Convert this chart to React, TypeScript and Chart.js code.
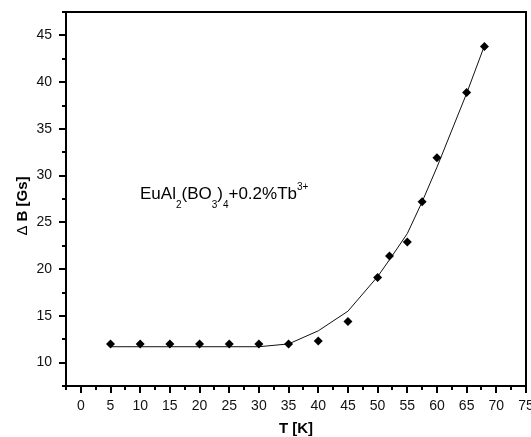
import React, { useEffect, useRef } from "react";
import { Chart, registerables } from "chart.js";

Chart.register(...registerables);

const temperatures = [5, 10, 15, 20, 25, 30, 35, 40, 45, 50, 52, 55, 57.5, 60, 65, 68];
const deltaB = [12, 12, 12, 12, 12, 12, 12, 12.3, 14.4, 19.1, 21.4, 22.9, 27.2, 31.9, 38.9, 43.8];
const fitB = [11.7, 11.7, 11.7, 11.7, 11.7, 11.7, 12.0, 13.4, 15.5, 19.2, 21.0, 23.8, 27.2, 30.9, 38.8, 43.9];
const xMajorTicks = [0, 5, 10, 15, 20, 25, 30, 35, 40, 45, 50, 55, 60, 65, 70, 75];
const xMinorTicks = [-2.5, 2.5, 7.5, 12.5, 17.5, 22.5, 27.5, 32.5, 37.5, 42.5, 47.5, 52.5, 57.5, 62.5, 67.5, 72.5];
const yMajorTicks = [10, 15, 20, 25, 30, 35, 40, 45];
const yMinorTicks = [7.5, 12.5, 17.5, 22.5, 27.5, 32.5, 37.5, 42.5, 47.5];
const xTitle = "T [K]";
const yTitleSymbol = "Δ";
const yTitleRest = " B [Gs]";
const annotationParts: [string, string][] = [
  ["EuAl", "n"], ["2", "sub"], ["(BO", "n"], ["3", "sub"], [")", "n"], ["4", "sub"], ["+0.2%Tb", "n"], ["3+", "sup"],
];

const FONT = "'Liberation Sans', Arial, sans-serif";

const framePlugin = {
  id: "frameTicks",
  afterDraw(chart: any) {
    const { ctx, chartArea } = chart;
    const { left, right, top, bottom } = chartArea;
    const xs = chart.scales.x;
    const ys = chart.scales.y;
    ctx.save();
    ctx.strokeStyle = "#000";
    ctx.lineWidth = 2;
    ctx.strokeRect(left, top, right - left, bottom - top);
    ctx.beginPath();
    xMajorTicks.forEach((v) => {
      const p = Math.round(xs.getPixelForValue(v));
      ctx.moveTo(p, bottom);
      ctx.lineTo(p, bottom + 7);
    });
    xMinorTicks.forEach((v) => {
      const p = Math.round(xs.getPixelForValue(v));
      ctx.moveTo(p, bottom);
      ctx.lineTo(p, bottom + 4);
    });
    yMajorTicks.forEach((v) => {
      const p = Math.round(ys.getPixelForValue(v));
      ctx.moveTo(left, p);
      ctx.lineTo(left - 7, p);
    });
    yMinorTicks.forEach((v) => {
      const p = Math.round(ys.getPixelForValue(v));
      ctx.moveTo(left, p);
      ctx.lineTo(left - 4, p);
    });
    ctx.stroke();

    // axis titles
    ctx.fillStyle = "#000";
    ctx.font = `bold 15px ${FONT}`;
    ctx.textAlign = "center";
    ctx.textBaseline = "alphabetic";
    ctx.fillText(xTitle, (left + right) / 2, 433);

    ctx.save();
    ctx.translate(27, 206);
    ctx.rotate(-Math.PI / 2);
    ctx.textAlign = "left";
    ctx.font = `15px ${FONT}`;
    const w1 = ctx.measureText(yTitleSymbol).width;
    ctx.font = `bold 15px ${FONT}`;
    const w2 = ctx.measureText(yTitleRest).width;
    const start = -(w1 + w2) / 2;
    ctx.font = `15px ${FONT}`;
    ctx.fillText(yTitleSymbol, start, 0);
    ctx.font = `bold 15px ${FONT}`;
    ctx.fillText(yTitleRest, start + w1, 0);
    ctx.restore();

    // annotation
    let ax = 140;
    const base = 199;
    ctx.textAlign = "left";
    annotationParts.forEach(([t, kind]) => {
      if (kind === "n") {
        ctx.font = `17px ${FONT}`;
        ctx.fillText(t, ax, base);
      } else if (kind === "sub") {
        ctx.font = `10px ${FONT}`;
        ctx.fillText(t, ax, base + 9);
      } else {
        ctx.font = `10px ${FONT}`;
        ctx.fillText(t, ax, base - 9);
      }
      ax += ctx.measureText(t).width;
    });
    ctx.restore();
  },
};

export default function App() {
  const ref = useRef<HTMLCanvasElement | null>(null);
  useEffect(() => {
    if (!ref.current) return;
    const chart = new Chart(ref.current, {
      type: "scatter",
      data: {
        datasets: [
          {
            label: "fit",
            data: temperatures.map((t, i) => ({ x: t, y: fitB[i] })),
            showLine: true,
            borderColor: "#111",
            borderWidth: 1,
            pointRadius: 0,
            fill: false,
            tension: 0,
            order: 2,
          },
          {
            label: "data",
            data: temperatures.map((t, i) => ({ x: t, y: deltaB[i] })),
            pointStyle: "rectRot",
            pointRadius: 4.5,
            backgroundColor: "#000",
            borderColor: "#000",
            borderWidth: 0,
            showLine: false,
            order: 1,
          },
        ],
      },
      options: {
        animation: false,
        responsive: false,
        layout: { padding: { left: 0, right: 5, top: 12, bottom: 0 } },
        plugins: { legend: { display: false }, tooltip: { enabled: false } },
        scales: {
          x: {
            type: "linear",
            min: -2.5,
            max: 75,
            grid: { display: false },
            border: { display: false },
            afterBuildTicks: (scale: any) => {
              scale.ticks = xMajorTicks.map((v) => ({ value: v }));
            },
            afterFit: (scale: any) => {
              scale.height = 51;
              scale.paddingLeft = 0;
              scale.paddingRight = 0;
            },
            ticks: {
              autoSkip: false,
              maxRotation: 0,
              padding: 4,
              color: "#111",
              font: { family: FONT, size: 14 },
            },
          },
          y: {
            type: "linear",
            min: 7.5,
            max: 47.5,
            grid: { display: false },
            border: { display: false },
            afterBuildTicks: (scale: any) => {
              scale.ticks = yMajorTicks.map((v) => ({ value: v }));
            },
            afterFit: (scale: any) => {
              scale.width = 66;
              scale.paddingTop = 0;
              scale.paddingBottom = 0;
            },
            ticks: {
              autoSkip: false,
              padding: 6,
              color: "#111",
              font: { family: FONT, size: 14 },
            },
          },
        },
      },
      plugins: [framePlugin],
    });
    return () => chart.destroy();
  }, []);
  return (
    <div style={{ position: "absolute", left: 0, top: 0, width: 531, height: 437 }}>
      <canvas ref={ref} width={531} height={437} />
    </div>
  );
}
